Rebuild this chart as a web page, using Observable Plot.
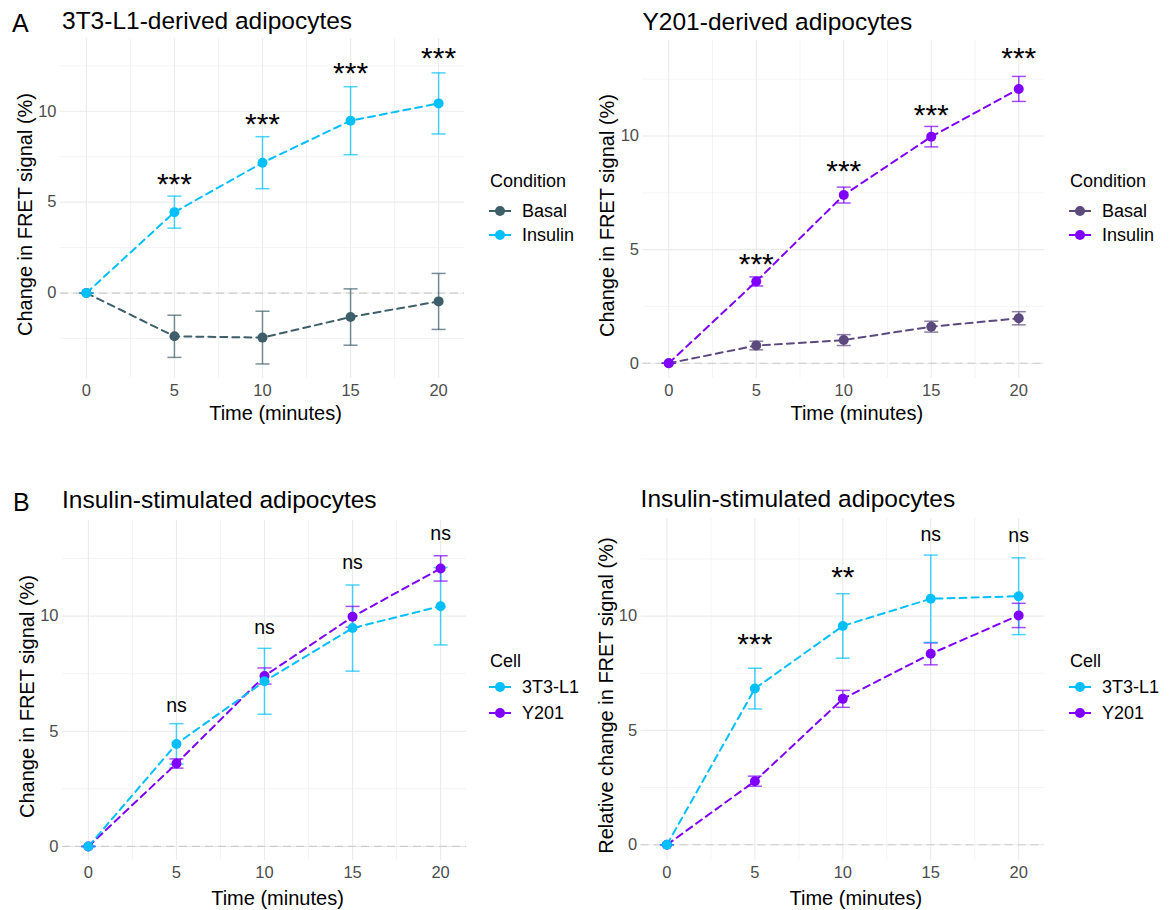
<!DOCTYPE html>
<html>
<head>
<meta charset="utf-8">
<script src="https://cdn.jsdelivr.net/npm/d3@7"></script>
<script src="https://cdn.jsdelivr.net/npm/@observablehq/plot@0.6"></script>
<style>
  body { margin: 0; background: #fff; font-family: "Liberation Sans", Arial, sans-serif; }
  #root { position: relative; width: 1174px; height: 910px; overflow: hidden; background: #fff; }
  .abs { position: absolute; white-space: nowrap; }
  .ptitle { font-size: 24.5px; line-height: 24px; color: #000; }
  .plabel { font-size: 25px; line-height: 25px; color: #000; }
  .ltitle { font-size: 18px; line-height: 18px; color: #000; }
  .ltext { font-size: 18px; line-height: 18px; color: #000; }
  svg.panel { position: absolute; overflow: visible; }
</style>
</head>
<body>
<div id="root"></div>
<script>
// ---------- data ----------
const time = [0, 5, 10, 15, 20];
const xMajor = [0, 5, 10, 15, 20];
const xMinor = [2.5, 7.5, 12.5, 17.5];
const yMajor = [0, 5, 10];
const yMinor = [-2.5, 2.5, 7.5, 12.5];

// Panel A (left): 3T3-L1-derived adipocytes
const a1Names = ["Basal", "Insulin"];
const a1Colors = ["#3E5F6A", "#00BFFF"];
const a1BasalMean = [0, -2.38, -2.45, -1.32, -0.46];
const a1BasalSE = [0, 1.16, 1.45, 1.55, 1.54];
const a1InsulinMean = [0, 4.45, 7.17, 9.48, 10.43];
const a1InsulinSE = [0, 0.88, 1.43, 1.87, 1.68];
const a1AnnTime = [5, 10, 15, 20];
const a1AnnLabel = ["***", "***", "***", "***"];
const a1AnnY = [6.37, 9.67, 12.47, 13.3];

// Panel A (right): Y201-derived adipocytes
const a2Names = ["Basal", "Insulin"];
const a2Colors = ["#5C4A7E", "#7F00FF"];
const a2BasalMean = [0, 0.78, 1.02, 1.61, 1.98];
const a2BasalSE = [0, 0.19, 0.24, 0.24, 0.29];
const a2InsulinMean = [0, 3.6, 7.4, 9.97, 12.07];
const a2InsulinSE = [0, 0.2, 0.35, 0.45, 0.55];
const a2AnnTime = [5, 10, 15, 20];
const a2AnnLabel = ["***", "***", "***", "***"];
const a2AnnY = [4.69, 8.76, 11.25, 13.74];

// Panel B (left): Insulin-stimulated, change in FRET
const b1Names = ["3T3-L1", "Y201"];
const b1Colors = ["#00BFFF", "#7F00FF"];
const b1L1Mean = [0, 4.45, 7.17, 9.48, 10.43];
const b1L1SE = [0, 0.88, 1.43, 1.87, 1.68];
const b1Y201Mean = [0, 3.6, 7.4, 9.97, 12.07];
const b1Y201SE = [0, 0.2, 0.35, 0.45, 0.55];
const b1AnnTime = [5, 10, 15, 20];
const b1AnnLabel = ["ns", "ns", "ns", "ns"];
const b1AnnY = [6.07, 9.44, 12.26, 13.52];

// Panel B (right): Insulin-stimulated, relative change
const b2Names = ["3T3-L1", "Y201"];
const b2Colors = ["#00BFFF", "#7F00FF"];
const b2L1Mean = [0, 6.83, 9.57, 10.76, 10.87];
const b2L1SE = [0, 0.89, 1.41, 1.91, 1.68];
const b2Y201Mean = [0, 2.78, 6.38, 8.35, 10.03];
const b2Y201SE = [0, 0.22, 0.37, 0.48, 0.53];
const b2AnnTime = [5, 10, 15, 20];
const b2AnnLabel = ["***", "**", "ns", "ns"];
const b2AnnY = [9.08, 12.04, 13.52, 13.45];

// ---------- helpers ----------
const root = document.getElementById("root");
const FONT = "'Liberation Sans', Arial, sans-serif";

function rowsOf(series) {
  return series.flatMap(s => time.map((t, i) => ({t, mean: s.mean[i], se: s.se[i], color: s.color, name: s.name})));
}

function panel(cfg) {
  const rows = rowsOf(cfg.drawOrder);
  const ann = cfg.annTime.map((t, i) => ({t, y: cfg.annY[i], label: cfg.annLabel[i]}));
  const [y0, y1] = cfg.yDomain;
  const cap = 0.4;
  const plot = Plot.plot({
    width: cfg.width, height: cfg.height,
    marginLeft: cfg.m[0], marginRight: cfg.m[1], marginTop: cfg.m[2], marginBottom: cfg.m[3],
    x: {domain: [-1.47, 21.47], axis: null},
    y: {domain: cfg.yDomain, axis: null},
    color: {type: "identity"},
    style: {fontFamily: FONT, background: "transparent", color: "#4D4D4D", overflow: "visible"},
    marks: [
      Plot.ruleX(xMinor, {stroke: "#EFEFEF", strokeWidth: 0.7}),
      Plot.ruleY(yMinor.filter(v => v > y0 && v < y1), {stroke: "#EFEFEF", strokeWidth: 0.7}),
      Plot.ruleX(xMajor, {stroke: "#EBEBEB", strokeWidth: 1.1}),
      Plot.ruleY(yMajor.filter(v => v > y0 && v < y1), {stroke: "#EBEBEB", strokeWidth: 1.1}),
      Plot.ruleY([0], {stroke: "#CCCCCC", strokeWidth: 1.2, strokeDasharray: "8,5"}),
      Plot.link(rows, {x1: "t", x2: "t", y1: d => d.mean - d.se, y2: d => d.mean + d.se, stroke: "color", strokeWidth: 1.5, strokeOpacity: 0.7}),
      Plot.link(rows, {x1: d => d.t - cap, x2: d => d.t + cap, y1: d => d.mean + d.se, y2: d => d.mean + d.se, stroke: "color", strokeWidth: 1.5, strokeOpacity: 0.7}),
      Plot.link(rows, {x1: d => d.t - cap, x2: d => d.t + cap, y1: d => d.mean - d.se, y2: d => d.mean - d.se, stroke: "color", strokeWidth: 1.5, strokeOpacity: 0.7}),
      Plot.line(rows, {x: "t", y: "mean", z: "name", stroke: "color", strokeWidth: 2, strokeDasharray: "7,5"}),
      Plot.dot(rows, {x: "t", y: "mean", fill: "color", r: 5}),
      Plot.axisX({ticks: xMajor, tickSize: 0, tickPadding: 6, fontSize: 16.5, label: null, color: "#4D4D4D"}),
      Plot.axisY({ticks: yMajor.filter(v => v > y0 && v < y1), tickSize: 0, tickPadding: 4, fontSize: 16.5, label: null, color: "#4D4D4D"}),
      Plot.text(ann.filter(d => d.label !== "ns"), {x: "t", y: "y", text: "label", fontSize: 30, fill: "#000", dy: 7.5}),
      Plot.text(ann.filter(d => d.label === "ns"), {x: "t", y: "y", text: "label", fontSize: 19.5, fill: "#000", dy: -1}),
      Plot.text(["Time (minutes)"], {frameAnchor: "bottom", textAnchor: "middle", lineAnchor: "middle", dx: 13, dy: cfg.xTitleDy, fontSize: 20, fill: "#000"}),
      Plot.text([cfg.yLabel], {frameAnchor: "left", textAnchor: "middle", lineAnchor: "middle", rotate: -90, dx: -35, dy: 6, fontSize: 20, fill: "#000"})
    ]
  });
  plot.classList.add("panel");
  plot.style.left = cfg.left + "px";
  plot.style.top = cfg.top + "px";
  root.appendChild(plot);

  // titles
  const lab = document.createElement("div");
  lab.className = "abs plabel";
  lab.textContent = cfg.letter || "";
  lab.style.left = cfg.letterPos[0] + "px";
  lab.style.top = cfg.letterPos[1] + "px";
  root.appendChild(lab);
  const ti = document.createElement("div");
  ti.className = "abs ptitle";
  ti.textContent = cfg.title;
  ti.style.left = cfg.titlePos[0] + "px";
  ti.style.top = cfg.titlePos[1] + "px";
  root.appendChild(ti);

  // legend
  const lg = cfg.legend;
  const lt = document.createElement("div");
  lt.className = "abs ltitle";
  lt.textContent = lg.title;
  lt.style.left = lg.x + "px";
  lt.style.top = (lg.titleY - 9) + "px";
  root.appendChild(lt);
  cfg.legendOrder.forEach((s, i) => {
    const cy = lg.itemY[i];
    const sw = document.createElementNS("http://www.w3.org/2000/svg", "svg");
    sw.setAttribute("width", 24); sw.setAttribute("height", 14);
    sw.style.position = "absolute";
    sw.style.left = (lg.x - 1) + "px";
    sw.style.top = (cy - 7) + "px";
    sw.innerHTML = `<line x1="0" x2="22" y1="7" y2="7" stroke="${s.color}" stroke-width="2"/><circle cx="11" cy="7" r="5" fill="${s.color}"/>`;
    root.appendChild(sw);
    const tx = document.createElement("div");
    tx.className = "abs ltext";
    tx.textContent = s.name;
    tx.style.left = (lg.x + 32) + "px";
    tx.style.top = (cy - 9) + "px";
    root.appendChild(tx);
  });
}

const a1Basal = {name: a1Names[0], color: a1Colors[0], mean: a1BasalMean, se: a1BasalSE};
const a1Ins = {name: a1Names[1], color: a1Colors[1], mean: a1InsulinMean, se: a1InsulinSE};
const a2Basal = {name: a2Names[0], color: a2Colors[0], mean: a2BasalMean, se: a2BasalSE};
const a2Ins = {name: a2Names[1], color: a2Colors[1], mean: a2InsulinMean, se: a2InsulinSE};
const b1L1 = {name: b1Names[0], color: b1Colors[0], mean: b1L1Mean, se: b1L1SE};
const b1Y = {name: b1Names[1], color: b1Colors[1], mean: b1Y201Mean, se: b1Y201SE};
const b2L1 = {name: b2Names[0], color: b2Colors[0], mean: b2L1Mean, se: b2L1SE};
const b2Y = {name: b2Names[1], color: b2Colors[1], mean: b2Y201Mean, se: b2Y201SE};

panel({
  left: 0, top: 0, width: 470, height: 430, m: [60, 6, 38, 52], yDomain: [-4.7, 14.0],
  drawOrder: [a1Basal, a1Ins], legendOrder: [a1Basal, a1Ins],
  annTime: a1AnnTime, annY: a1AnnY, annLabel: a1AnnLabel,
  yLabel: "Change in FRET signal (%)", xTitleDy: 35,
  letter: "A", letterPos: [12, 11], title: "3T3-L1-derived adipocytes", titlePos: [62, 9],
  legend: {title: "Condition", x: 490, titleY: 181, itemY: [210.5, 235]}
});
panel({
  left: 580, top: 0, width: 470, height: 430, m: [62.5, 6, 40, 52], yDomain: [-0.67, 14.2],
  drawOrder: [a2Basal, a2Ins], legendOrder: [a2Basal, a2Ins],
  annTime: a2AnnTime, annY: a2AnnY, annLabel: a2AnnLabel,
  yLabel: "Change in FRET signal (%)", xTitleDy: 35,
  letter: "", letterPos: [592, 11], title: "Y201-derived adipocytes", titlePos: [642.5, 9.5],
  legend: {title: "Condition", x: 1070, titleY: 181, itemY: [210.5, 235]}
});
panel({
  left: 0, top: 470, width: 472, height: 440, m: [62, 6, 50, 50], yDomain: [-0.61, 14.15],
  drawOrder: [b1Y, b1L1], legendOrder: [b1L1, b1Y],
  annTime: b1AnnTime, annY: b1AnnY, annLabel: b1AnnLabel,
  yLabel: "Change in FRET signal (%)", xTitleDy: 38,
  letter: "B", letterPos: [13, 490], title: "Insulin-stimulated adipocytes", titlePos: [62, 488],
  legend: {title: "Cell", x: 490, titleY: 661, itemY: [687, 713]}
});
panel({
  left: 580, top: 470, width: 470, height: 440, m: [60.6, 6, 48, 50], yDomain: [-0.69, 14.27],
  drawOrder: [b2Y, b2L1], legendOrder: [b2L1, b2Y],
  annTime: b2AnnTime, annY: b2AnnY, annLabel: b2AnnLabel,
  yLabel: "Relative change in FRET signal (%)", xTitleDy: 38,
  letter: "", letterPos: [592, 490], title: "Insulin-stimulated adipocytes", titlePos: [640.6, 487],
  legend: {title: "Cell", x: 1070, titleY: 661, itemY: [687, 713]}
});
</script>
</body>
</html>
